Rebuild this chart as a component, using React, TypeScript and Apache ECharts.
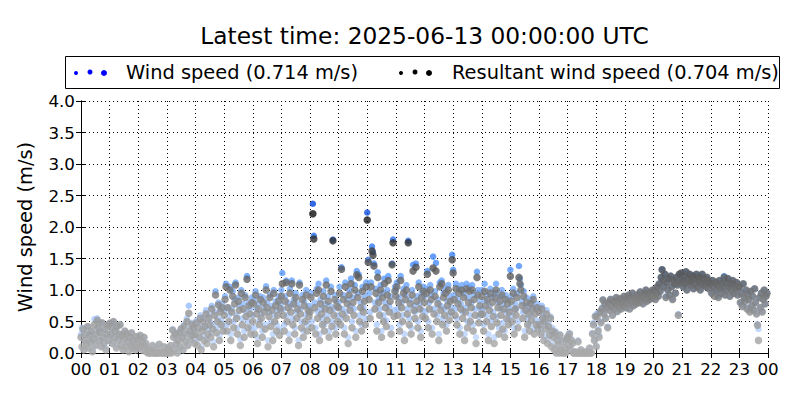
import React, { useEffect, useRef } from "react";
import * as echarts from "echarts";

const TITLE = "Latest time: 2025-06-13 00:00:00 UTC";
const LEGEND_WIND = "Wind speed (0.714 m/s)";
const LEGEND_RESULTANT = "Resultant wind speed (0.704 m/s)";
const Y_NAME = "Wind speed (m/s)";
const FONT = '"DejaVu Sans", "Liberation Sans", sans-serif';

// Resultant wind speed (m/s), 2-minute samples, one row per hour (00 .. 23)
const resultant: number[][] = [
  [0.25,0.1,0.38,0.05,0.2,0.3,0.15,0.42,0.08,0.28,0.18,0.35,0.02,0.22,0.45,0.12,0.3,0.52,0.4,0.2,0.33,0.1,0.48,0.25,0.15,0.38,0.05,0.3,0.44,0.2],
  [0.47,0.3,0.4,0.15,0.5,0.25,0.35,0.08,0.42,0.2,0.3,0.45,0.12,0.28,0.05,0.22,0.35,0.1,0.3,0.18,0.02,0.25,0.12,0.32,0.08,0.2,0.15,0.05,0.26,0.1],
  [0.22,0.08,0.28,0.12,0.18,0.04,0.25,0.1,0.15,0.02,0.0,0.06,0.0,0.0,0.03,0.12,0.0,0.0,0.0,0.05,0.0,0.0,0.14,0.0,0.02,0.0,0.0,0.1,0.0,0.0],
  [0.0,0.08,0.0,0.02,0.12,0.0,0.36,0.25,0.05,0.3,0.15,0.0,0.2,0.32,0.1,0.38,0.25,0.05,0.42,0.18,0.3,0.5,0.12,0.63,0.35,0.22,0.45,0.28,0.4,0.15],
  [0.3,0.48,0.12,0.4,0.25,0.55,0.05,0.35,0.5,0.2,0.42,0.62,0.15,0.3,0.55,0.45,0.25,0.7,0.38,0.1,0.6,0.92,0.32,0.5,0.76,0.2,0.65,0.45,0.72,0.35],
  [0.6,0.85,1.05,0.35,0.72,0.5,1.0,0.2,0.65,0.9,0.4,0.78,1.08,0.55,0.3,0.82,0.68,0.12,0.95,0.45,0.7,0.25,0.88,0.58,1.17,0.4,0.75,0.62,0.3,0.8],
  [0.5,0.78,0.3,0.92,0.62,0.15,0.7,0.45,0.85,0.55,0.25,0.8,0.65,0.38,1.0,0.72,0.1,0.58,0.88,0.42,0.68,0.2,0.95,0.5,0.75,0.35,0.6,0.82,0.28,0.7],
  [0.9,1.1,0.6,0.35,0.82,1.12,0.5,0.72,0.2,0.95,0.65,1.1,0.45,0.78,0.3,0.88,0.55,0.7,0.12,1.08,0.62,0.4,0.85,0.25,0.75,0.5,0.92,0.35,0.68,0.58],
  [0.65,0.88,0.4,2.21,1.81,0.72,0.3,0.95,0.55,1.0,0.2,0.78,0.62,0.45,0.9,0.35,0.7,1.08,0.52,0.82,0.25,0.68,0.98,0.42,1.78,0.6,0.85,0.3,0.75,0.5],
  [0.72,0.95,0.45,1.33,0.62,0.85,0.3,1.05,0.55,0.78,0.15,0.92,0.68,1.1,0.4,0.8,0.6,1.0,0.25,1.24,0.88,1.2,0.5,0.72,0.35,0.98,0.65,0.82,0.45,1.05],
  [2.11,1.44,0.85,0.55,1.05,1.62,1.55,1.38,0.7,0.95,0.35,1.2,0.8,0.6,1.0,0.25,0.88,0.5,1.1,0.72,0.42,0.92,1.15,0.65,0.82,0.3,1.4,1.75,0.58,0.98],
  [0.9,1.05,0.6,0.8,0.35,1.15,0.72,0.5,0.95,0.2,0.85,1.0,0.62,1.75,0.45,0.78,0.3,0.92,1.3,0.68,0.55,1.36,0.82,0.4,1.05,0.7,0.25,0.88,0.58,0.98],
  [0.8,0.55,0.95,1.25,0.4,0.7,1.0,0.85,0.3,1.35,0.62,0.9,1.3,0.5,0.78,0.2,1.05,0.68,1.1,0.45,0.88,0.6,0.95,0.35,0.75,1.0,0.52,0.82,0.65,1.48],
  [1.27,0.85,0.6,1.02,0.45,0.78,0.95,0.3,0.7,1.0,0.55,0.88,0.2,0.65,1.02,0.4,0.8,0.98,0.5,0.72,1.0,0.35,0.85,0.6,0.15,1.2,0.92,0.48,0.75,0.62],
  [0.9,0.62,0.35,0.98,0.75,0.5,0.85,0.2,0.68,0.95,0.42,0.8,0.58,0.15,0.88,1.0,0.48,0.72,0.3,0.82,0.6,0.92,0.38,0.7,0.25,0.85,0.55,0.78,0.45,0.65],
  [1.22,0.82,0.5,0.95,0.3,0.7,0.6,0.88,0.4,1.2,1.1,1.0,0.75,0.55,0.9,0.25,0.68,0.8,0.45,0.62,0.35,0.78,0.52,0.7,0.85,0.3,0.62,0.45,0.72,0.38],
  [0.65,0.45,0.3,0.7,0.55,0.2,0.5,0.38,0.62,0.15,0.42,0.28,0.55,0.1,0.35,0.25,0.05,0.32,0.0,0.2,0.12,0.0,0.28,0.05,0.0,0.18,0.0,0.08,0.0,0.22],
  [0.25,0.12,0.3,0.05,0.2,0.15,0.0,0.0,0.02,0.0,0.0,0.18,0.0,0.0,0.05,0.0,0.0,0.0,0.0,0.02,0.0,0.0,0.0,0.08,0.0,0.0,0.3,0.45,0.2,0.58],
  [0.1,0.57,0.35,0.25,0.65,0.48,0.7,0.84,0.62,0.78,0.55,0.72,0.4,0.8,0.68,0.85,0.75,0.6,0.82,0.7,0.78,0.88,0.66,0.8,0.74,0.86,0.7,0.82,0.76,0.9],
  [0.8,0.72,0.88,0.78,0.92,0.7,0.85,0.8,0.95,0.75,0.88,0.82,0.78,0.92,0.86,0.8,0.97,0.84,0.9,0.78,0.94,0.86,1.0,0.82,0.9,0.96,0.85,0.92,0.88,1.0],
  [0.9,1.0,0.85,0.95,1.05,0.9,1.1,0.98,1.2,1.32,1.15,1.05,1.25,0.88,1.12,1.0,1.18,0.92,1.22,1.05,0.85,1.15,1.1,0.95,1.2,1.08,0.6,1.25,1.12,1.27],
  [1.15,1.05,1.2,1.1,1.29,1.0,1.18,1.12,1.25,1.08,1.15,1.22,1.02,1.18,1.1,1.25,1.05,1.15,1.2,1.0,1.12,1.25,1.08,1.18,1.1,1.05,1.2,1.15,1.02,1.12],
  [1.1,0.95,1.15,1.05,0.9,1.12,1.0,1.08,0.88,1.15,1.02,0.95,1.1,1.05,1.2,0.92,1.12,1.0,1.18,1.05,0.9,1.1,1.0,1.15,0.95,1.08,1.02,1.12,0.92,1.05],
  [1.05,0.8,0.95,0.74,1.1,0.88,0.82,1.0,0.7,0.92,0.85,0.65,0.98,0.75,0.9,0.68,1.02,0.8,0.62,0.44,0.2,0.88,0.72,0.95,0.65,0.85,1.0,0.78,0.9,0.95],
];

// Wind speed (m/s), same sampling
const windSpeed: number[][] = [
  [0.3,0.4,0.38,0.05,0.2,0.32,0.15,0.42,0.1,0.28,0.2,0.35,0.05,0.22,0.54,0.12,0.3,0.55,0.4,0.2,0.35,0.1,0.48,0.25,0.15,0.38,0.08,0.3,0.45,0.2],
  [0.48,0.3,0.42,0.15,0.5,0.25,0.35,0.1,0.42,0.22,0.3,0.45,0.12,0.3,0.05,0.22,0.35,0.12,0.3,0.18,0.05,0.25,0.12,0.32,0.1,0.2,0.15,0.05,0.26,0.1],
  [0.22,0.1,0.28,0.12,0.2,0.05,0.25,0.12,0.15,0.03,0.0,0.06,0.0,0.0,0.04,0.12,0.0,0.0,0.0,0.05,0.0,0.0,0.14,0.0,0.02,0.0,0.0,0.1,0.0,0.0],
  [0.0,0.08,0.0,0.03,0.12,0.0,0.38,0.25,0.06,0.32,0.15,0.0,0.22,0.35,0.1,0.4,0.28,0.05,0.45,0.2,0.32,0.55,0.12,0.75,0.38,0.25,0.48,0.3,0.42,0.18],
  [0.35,0.52,0.2,0.48,0.25,0.6,0.1,0.4,0.55,0.28,0.42,0.68,0.22,0.38,0.6,0.5,0.32,0.75,0.45,0.18,0.65,0.98,0.4,0.55,0.8,0.28,0.7,0.52,0.78,0.42],
  [0.68,0.9,1.1,0.45,0.72,0.6,1.05,0.3,0.7,0.98,0.5,0.85,1.12,0.6,0.4,0.88,0.75,0.22,1.0,0.55,0.78,0.35,0.92,0.65,1.22,0.5,0.8,0.7,0.4,0.88],
  [0.6,0.85,0.4,0.98,0.7,0.25,0.78,0.52,0.9,0.62,0.35,0.88,0.72,0.45,1.06,0.8,0.2,0.65,0.92,0.5,0.75,0.3,1.0,0.6,0.82,0.45,0.68,0.9,0.38,0.78],
  [1.0,1.27,0.7,0.45,0.9,1.15,0.6,0.8,0.3,1.02,0.75,1.15,0.55,0.85,0.4,0.95,0.65,0.78,0.2,1.12,0.7,0.5,0.92,0.35,0.82,0.6,1.0,0.45,0.75,0.65],
  [0.75,0.95,0.5,2.37,1.86,0.8,0.4,1.02,0.65,1.1,0.3,0.85,0.7,0.55,0.98,0.45,0.78,1.15,0.6,0.9,0.35,0.75,1.05,0.5,1.8,0.7,0.92,0.4,0.82,0.6],
  [0.8,1.05,0.55,1.36,0.7,0.92,0.4,1.12,0.65,0.85,0.25,1.0,0.75,1.18,0.5,0.88,0.7,1.08,0.35,1.3,0.95,1.25,0.6,0.8,0.45,1.05,0.72,0.9,0.55,1.12],
  [2.23,1.48,0.95,0.65,1.12,1.69,1.6,1.42,0.8,1.02,0.45,1.28,0.88,0.7,1.08,0.35,0.95,0.6,1.18,0.8,0.52,1.0,1.22,0.75,0.9,0.4,1.42,1.8,0.68,1.05],
  [1.0,1.12,0.7,0.88,0.45,1.22,0.8,0.6,1.02,0.3,0.92,1.08,0.7,1.78,0.55,0.85,0.4,1.0,1.4,0.75,0.65,1.42,0.9,0.5,1.12,0.78,0.35,0.95,0.68,1.05],
  [0.9,0.65,1.02,1.3,0.5,0.8,1.08,0.92,0.4,1.53,0.7,0.98,1.43,0.6,0.85,0.3,1.12,0.75,1.15,0.55,0.95,0.7,1.02,0.45,0.82,1.08,0.62,0.9,0.72,1.56],
  [1.32,0.92,0.7,1.1,0.55,0.85,1.02,0.4,0.78,1.08,0.65,0.95,0.3,0.72,1.1,0.5,0.88,1.05,0.6,0.8,1.08,0.45,0.92,0.7,0.25,1.29,1.0,0.58,0.82,0.7],
  [1.0,0.7,0.45,1.1,0.82,0.6,0.92,0.3,0.75,1.02,0.52,0.88,0.65,0.25,0.95,1.1,0.58,0.8,0.4,0.9,0.7,1.0,0.48,0.78,0.35,0.92,0.65,0.85,0.55,0.72],
  [1.32,0.9,0.6,1.02,0.4,0.78,0.7,0.95,0.5,1.38,1.18,1.08,0.82,0.65,0.98,0.35,0.75,0.88,0.55,0.7,0.45,0.85,0.6,0.78,0.9,0.38,0.7,0.52,0.78,0.45],
  [0.73,0.5,0.38,0.75,0.6,0.28,0.55,0.45,0.68,0.22,0.48,0.32,0.58,0.15,0.4,0.28,0.08,0.35,0.0,0.22,0.15,0.0,0.3,0.05,0.0,0.2,0.0,0.1,0.0,0.24],
  [0.28,0.15,0.32,0.05,0.22,0.15,0.0,0.0,0.02,0.0,0.0,0.2,0.0,0.0,0.05,0.0,0.0,0.0,0.0,0.02,0.0,0.0,0.0,0.08,0.0,0.0,0.32,0.48,0.22,0.6],
  [0.12,0.63,0.38,0.28,0.66,0.5,0.72,0.85,0.63,0.78,0.56,0.73,0.42,0.8,0.68,0.86,0.75,0.6,0.82,0.7,0.78,0.88,0.66,0.8,0.74,0.86,0.7,0.82,0.76,0.9],
  [0.8,0.72,0.88,0.78,0.92,0.7,0.85,0.8,0.95,0.75,0.88,0.82,0.78,0.92,0.86,0.8,0.97,0.84,0.9,0.78,0.94,0.86,1.0,0.82,0.9,0.96,0.85,0.92,0.88,1.0],
  [0.9,1.0,0.86,0.95,1.05,0.9,1.1,0.98,1.2,1.33,1.15,1.05,1.25,0.9,1.12,1.0,1.18,0.92,1.22,1.05,0.86,1.15,1.1,0.95,1.2,1.08,0.62,1.25,1.12,1.27],
  [1.15,1.05,1.2,1.1,1.29,1.0,1.18,1.12,1.25,1.08,1.15,1.22,1.02,1.18,1.1,1.25,1.05,1.15,1.2,1.0,1.12,1.25,1.08,1.18,1.1,1.05,1.2,1.15,1.02,1.12],
  [1.1,0.95,1.15,1.05,0.97,1.12,1.0,1.08,0.9,1.15,1.02,0.97,1.12,1.05,1.22,0.92,1.12,1.0,1.18,1.05,0.9,1.1,1.0,1.15,0.95,1.08,1.02,1.12,0.92,1.05],
  [1.05,0.8,0.97,0.76,1.1,0.88,0.85,1.0,0.72,0.92,0.85,0.68,0.98,0.75,0.9,0.7,1.02,0.8,0.63,0.46,0.38,0.88,0.72,0.95,0.66,0.85,1.0,0.78,0.9,0.95],
];

function toPoints(byHour: number[][]): [number, number][] {
  const pts: [number, number][] = [];
  byHour.forEach((vals, h) =>
    vals.forEach((v, i) => pts.push([h + i / vals.length, v]))
  );
  return pts;
}

const hourLabel = (v: number) => String(Math.round(v) % 24).padStart(2, "0");

export default function App() {
  const ref = useRef<HTMLDivElement>(null);
  useEffect(() => {
    document.body.style.margin = "0";
    if (!ref.current) return;
    const chart = echarts.init(ref.current, undefined, { renderer: "svg" });
    const axisLine = { show: true, lineStyle: { color: "#000", width: 1 } };
    const tick = { show: true, inside: true, length: 5, lineStyle: { color: "#000", width: 1 } };
    const grid = { show: true, lineStyle: { color: "#000", width: 1, type: [1, 3] as any } };
    const label = { color: "#000", fontSize: 16.7, fontFamily: FONT };
    chart.setOption({
      animation: false,
      backgroundColor: "#fff",
      grid: { left: 81, top: 101, width: 687, height: 252, containLabel: false },
      xAxis: [
        {
          type: "value", min: 0, max: 24, interval: 1, position: "bottom",
          axisLine, axisTick: tick, splitLine: grid,
          axisLabel: { ...label, margin: 7, formatter: hourLabel },
        },
        {
          type: "value", min: 0, max: 24, interval: 1, position: "top",
          axisLine, axisTick: tick, splitLine: { show: false }, axisLabel: { show: false },
        },
      ],
      yAxis: [
        {
          type: "value", min: 0, max: 4, interval: 0.5, position: "left",
          axisLine, axisTick: tick, splitLine: grid,
          axisLabel: { ...label, margin: 6, formatter: (v: number) => v.toFixed(1) },
          name: Y_NAME, nameLocation: "middle", nameGap: 46,
          nameTextStyle: { color: "#000", fontSize: 19.4, fontFamily: FONT },
        },
        {
          type: "value", min: 0, max: 4, interval: 0.5, position: "right",
          axisLine, axisTick: tick, splitLine: { show: false }, axisLabel: { show: false },
        },
      ],
      visualMap: [
        {
          type: "continuous", show: false, seriesIndex: 0, dimension: 1, min: 0, max: 2.4,
          inRange: { color: ["#c6dcff", "#a8c8ff", "#5a9cff", "#2a70f0", "#0040dd"] },
        },
        {
          type: "continuous", show: false, seriesIndex: 1, dimension: 1, min: 0, max: 2.4,
          inRange: { color: ["#aaaaaa", "#959595", "#5e5e5e", "#2e2e2e", "#000000"] },
        },
      ],
      series: [
        {
          name: "Wind speed", type: "scatter", xAxisIndex: 0, yAxisIndex: 0,
          symbol: "circle", symbolSize: 6.5, data: toPoints(windSpeed), silent: true,
        },
        {
          name: "Resultant wind speed", type: "scatter", xAxisIndex: 0, yAxisIndex: 0,
          symbol: "circle", symbolSize: 7.5, data: toPoints(resultant), silent: true,
        },
      ],
      graphic: [
        {
          type: "text", x: 424.5, y: 35,
          style: { text: TITLE, fontSize: 23.3, fontFamily: FONT, fill: "#000", textAlign: "center", textVerticalAlign: "middle" },
        },
        {
          type: "rect", shape: { x: 65.5, y: 56.5, width: 714, height: 32 },
          style: { fill: "#fff", stroke: "#000", lineWidth: 1 },
        },
        { type: "circle", shape: { cx: 76, cy: 73, r: 2 }, style: { fill: "#0000ff" } },
        { type: "circle", shape: { cx: 90, cy: 72, r: 2.5 }, style: { fill: "#0000ff" } },
        { type: "circle", shape: { cx: 104, cy: 73, r: 3 }, style: { fill: "#0000ff" } },
        {
          type: "text", x: 126, y: 72,
          style: { text: LEGEND_WIND, fontSize: 19.4, fontFamily: FONT, fill: "#000", textAlign: "left", textVerticalAlign: "middle" },
        },
        { type: "circle", shape: { cx: 401, cy: 73, r: 2 }, style: { fill: "#000" } },
        { type: "circle", shape: { cx: 415, cy: 72, r: 2.5 }, style: { fill: "#000" } },
        { type: "circle", shape: { cx: 429, cy: 73, r: 3 }, style: { fill: "#000" } },
        {
          type: "text", x: 452, y: 72,
          style: { text: LEGEND_RESULTANT, fontSize: 19.4, fontFamily: FONT, fill: "#000", textAlign: "left", textVerticalAlign: "middle" },
        },
      ],
    });
    return () => chart.dispose();
  }, []);
  return <div ref={ref} style={{ width: 800, height: 400 }} />;
}
